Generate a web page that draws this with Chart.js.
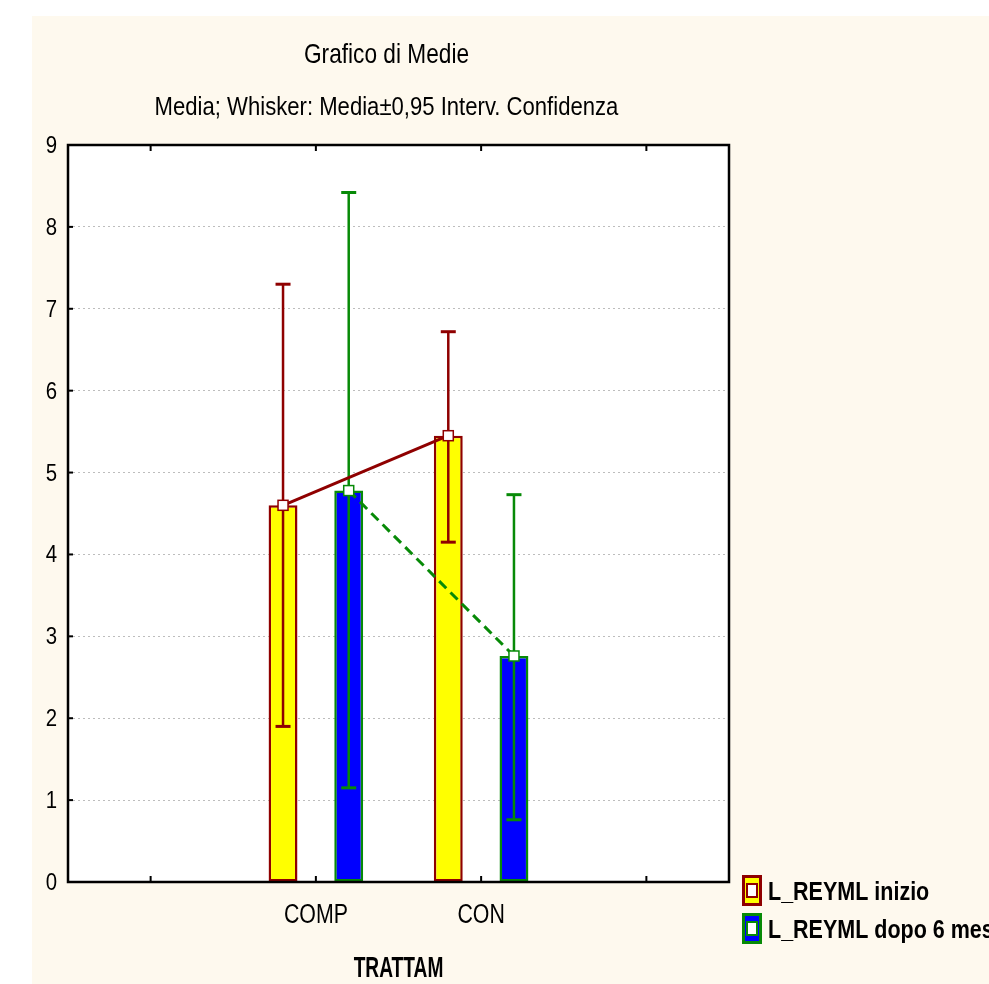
<!DOCTYPE html>
<html>
<head>
<meta charset="utf-8">
<script src="https://cdn.jsdelivr.net/npm/chart.js@4.4.1/dist/chart.umd.min.js"></script>
<style>
  html, body { margin: 0; padding: 0; background: #fff; }
  canvas { display: block; }
</style>
</head>
<body>
<canvas id="c" width="989" height="984"></canvas>
<script>
(function(){
  // categorie (slot vuoti ai lati come nel grafico originale)
  const categories = ['', 'COMP', 'CON', ''];
  const seriesNames = ['L_REYML inizio', 'L_REYML dopo 6 mesi'];
  // medie e intervalli di confidenza 0,95
  const inizioMean = [null, 4.60, 5.45, null];
  const inizioLow  = [null, 1.90, 4.15, null];
  const inizioHigh = [null, 7.30, 6.72, null];
  const dopoMean   = [null, 4.78, 2.76, null];
  const dopoLow    = [null, 1.15, 0.76, null];
  const dopoHigh   = [null, 8.42, 4.73, null];
  const yTicks = [0, 1, 2, 3, 4, 5, 6, 7, 8, 9];

  const FONT = "'Liberation Sans', Arial, sans-serif";
  const RED = '#8f0000', GREEN = '#078a07';
  const BEIGE = '#fef9ee';

  // testo "narrow": Liberation Sans compresso in orizzontale
  function narrowText(ctx, txt, x, y, font, sx, align){
    ctx.save();
    ctx.font = font; ctx.textAlign = align || 'center'; ctx.textBaseline = 'alphabetic';
    ctx.translate(x, y); ctx.scale(sx, 1);
    ctx.fillText(txt, 0, 0);
    ctx.restore();
  }

  const whiskers = [
    { low: inizioLow, high: inizioHigh, mean: inizioMean, color: RED, dash: [] },
    { low: dopoLow, high: dopoHigh, mean: dopoMean, color: GREEN, dash: [10, 6] }
  ];

  const statPlugin = {
    id: 'stat',
    beforeDraw(chart){
      const { ctx, chartArea: a, width, height } = chart;
      ctx.save();
      ctx.fillStyle = '#fff'; ctx.fillRect(0, 0, width, height);
      ctx.fillStyle = BEIGE; ctx.fillRect(32, 16, width - 32, height - 16);
      ctx.fillStyle = '#fff'; ctx.fillRect(a.left, a.top, a.right - a.left, a.bottom - a.top);
      ctx.restore();
    },
    afterDatasetsDraw(chart){
      const { ctx, chartArea: a } = chart;
      const ys = chart.scales.y, xs = chart.scales.x;
      ctx.save();
      // whisker
      whiskers.forEach((w, di) => {
        const meta = chart.getDatasetMeta(di);
        ctx.strokeStyle = w.color;
        meta.data.forEach((bar, i) => {
          if(w.mean[i] == null) return;
          const yl = ys.getPixelForValue(w.low[i]), yh = ys.getPixelForValue(w.high[i]);
          ctx.lineWidth = 2.5;
          ctx.beginPath(); ctx.moveTo(bar.x, yl); ctx.lineTo(bar.x, yh); ctx.stroke();
          ctx.lineWidth = 3;
          [yl, yh].forEach(y => { ctx.beginPath(); ctx.moveTo(bar.x - 7.5, y); ctx.lineTo(bar.x + 7.5, y); ctx.stroke(); });
        });
      });
      // linee che uniscono le medie
      whiskers.forEach((w, di) => {
        const meta = chart.getDatasetMeta(di);
        const pts = meta.data.filter((b, i) => w.mean[i] != null).map(b => [b.x, b.y]);
        ctx.strokeStyle = w.color; ctx.lineWidth = 3; ctx.setLineDash(w.dash);
        ctx.beginPath();
        pts.forEach((p, k) => k ? ctx.lineTo(p[0], p[1]) : ctx.moveTo(p[0], p[1]));
        ctx.stroke();
        ctx.setLineDash([]);
      });
      // marker
      whiskers.forEach((w, di) => {
        const meta = chart.getDatasetMeta(di);
        meta.data.forEach((b, i) => {
          if(w.mean[i] == null) return;
          ctx.fillStyle = '#fff'; ctx.strokeStyle = w.color; ctx.lineWidth = 1.5;
          ctx.fillRect(b.x - 5, b.y - 5, 10, 10);
          ctx.strokeRect(b.x - 5, b.y - 5, 10, 10);
        });
      });
      // cornice e tacche
      ctx.strokeStyle = '#000'; ctx.lineWidth = 2.5;
      ctx.strokeRect(a.left, a.top, a.right - a.left, a.bottom - a.top);
      ctx.lineWidth = 2;
      categories.forEach((c, i) => {
        const x = xs.getPixelForValue(i);
        ctx.beginPath();
        ctx.moveTo(x, a.top); ctx.lineTo(x, a.top + 6);
        ctx.moveTo(x, a.bottom); ctx.lineTo(x, a.bottom - 6);
        ctx.stroke();
      });
      yTicks.forEach(v => {
        const y = ys.getPixelForValue(v);
        ctx.beginPath(); ctx.moveTo(a.left, y); ctx.lineTo(a.left + 5, y); ctx.stroke();
      });
      ctx.restore();
    },
    afterDraw(chart){
      const { ctx, chartArea: a } = chart;
      const ys = chart.scales.y, xs = chart.scales.x;
      const cx = (a.left + a.right) / 2 - 12;
      ctx.save();
      ctx.fillStyle = '#000';
      narrowText(ctx, 'Grafico di Medie', cx, 63, '28px ' + FONT, 0.81);
      narrowText(ctx, 'Media; Whisker: Media\u00b10,95 Interv. Confidenza', cx, 115, '26px ' + FONT, 0.85);
      narrowText(ctx, 'TRATTAM', (a.left + a.right) / 2, 977, 'bold 29px ' + FONT, 0.66);
      // etichette assi
      categories.forEach((c, i) => {
        if(c) narrowText(ctx, c, xs.getPixelForValue(i), 923, '27px ' + FONT, 0.79);
      });
      yTicks.forEach(v => {
        narrowText(ctx, String(v), a.left - 11, ys.getPixelForValue(v) + 8, '24px ' + FONT, 0.85, 'right');
      });
      // legenda
      const fills = ['#ffff00', '#0000ff'];
      seriesNames.forEach((name, i) => {
        const top = 875 + i * 38;
        const col = whiskers[i].color;
        ctx.fillStyle = col; ctx.fillRect(742, top, 20, 31);
        ctx.fillStyle = fills[i]; ctx.fillRect(745, top + 3, 14, 25);
        ctx.fillStyle = col; ctx.fillRect(746, top + 8, 12, 15);
        ctx.fillStyle = '#fff'; ctx.fillRect(748, top + 10, 8, 11);
        ctx.fillStyle = '#000';
        narrowText(ctx, name, 768, top + 25, 'bold 25px ' + FONT, 0.86, 'left');
      });
      ctx.restore();
    }
  };

  new Chart(document.getElementById('c'), {
    type: 'bar',
    data: {
      labels: categories,
      datasets: [
        { label: seriesNames[0], data: inizioMean, backgroundColor: '#ffff00', borderColor: RED, borderWidth: 2.5, borderSkipped: false },
        { label: seriesNames[1], data: dopoMean, backgroundColor: '#0000ff', borderColor: GREEN, borderWidth: 2.5, borderSkipped: false }
      ]
    },
    options: {
      responsive: false,
      animation: false,
      categoryPercentage: 0.795,
      barPercentage: 0.44,
      layout: { padding: { left: 38, right: 260, top: 145, bottom: 0 } },
      plugins: { legend: { display: false }, tooltip: { enabled: false }, title: { display: false } },
      scales: {
        x: {
          offset: true,
          grid: { display: false },
          border: { display: false },
          ticks: { display: false },
          afterFit: s => { s.height = 102; }
        },
        y: {
          min: 0, max: 9,
          afterBuildTicks: s => { s.ticks = yTicks.map(v => ({ value: v })); },
          grid: { color: '#bdbdbd', lineWidth: 1, drawTicks: false },
          border: { display: false, dash: [2, 3] },
          ticks: { display: false },
          afterFit: s => { s.width = 30; }
        }
      }
    },
    plugins: [statPlugin]
  });
})();
</script>
</body>
</html>
